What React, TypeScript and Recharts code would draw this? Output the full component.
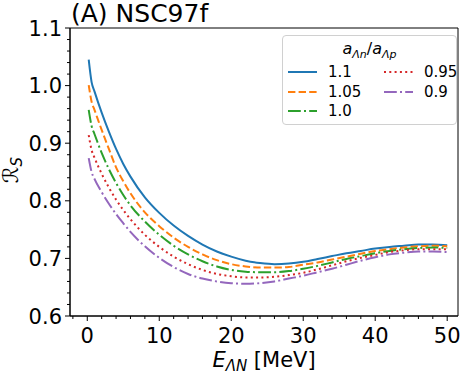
import React from "react";
import { LineChart, Line, XAxis, YAxis, ReferenceArea } from "recharts";

const energy = [0.2, 0.6, 1, 2, 3, 4, 5, 6, 8, 10, 12, 14, 16, 18, 20, 22, 24, 26, 28, 30, 32, 34, 36, 38, 40, 42, 44, 46, 48, 50];

const r110 = [1.045, 1.006, 0.99, 0.953, 0.92, 0.89, 0.864, 0.842, 0.806, 0.779, 0.757, 0.739, 0.724, 0.712, 0.703, 0.696, 0.692, 0.69, 0.691, 0.694, 0.699, 0.704, 0.709, 0.713, 0.717, 0.72, 0.722, 0.724, 0.724, 0.723];
const r105 = [1.001, 0.972, 0.958, 0.923, 0.89, 0.858, 0.834, 0.813, 0.78, 0.756, 0.736, 0.72, 0.707, 0.697, 0.69, 0.686, 0.684, 0.684, 0.685, 0.689, 0.693, 0.698, 0.703, 0.708, 0.713, 0.716, 0.719, 0.721, 0.722, 0.721];
const r100 = [0.958, 0.93, 0.916, 0.883, 0.855, 0.831, 0.81, 0.792, 0.764, 0.741, 0.722, 0.707, 0.695, 0.686, 0.68, 0.677, 0.676, 0.676, 0.678, 0.682, 0.687, 0.693, 0.699, 0.704, 0.709, 0.713, 0.716, 0.718, 0.719, 0.718];
const r095 = [0.914, 0.888, 0.875, 0.847, 0.823, 0.802, 0.784, 0.768, 0.741, 0.72, 0.703, 0.69, 0.68, 0.673, 0.669, 0.667, 0.667, 0.668, 0.671, 0.675, 0.681, 0.688, 0.695, 0.701, 0.706, 0.711, 0.714, 0.716, 0.716, 0.716];
const r090 = [0.874, 0.85, 0.838, 0.815, 0.795, 0.777, 0.761, 0.746, 0.721, 0.701, 0.685, 0.673, 0.665, 0.66, 0.657, 0.656, 0.657, 0.66, 0.665, 0.67, 0.676, 0.682, 0.689, 0.696, 0.702, 0.707, 0.71, 0.712, 0.712, 0.711];

const xMajor = [0, 10, 20, 30, 40, 50];
const yMajor = [0.6, 0.7, 0.8, 0.9, 1.0, 1.1];

const data = energy.map((e, i) => ({ e, r110: r110[i], r105: r105[i], r100: r100[i], r095: r095[i], r090: r090[i] }));

const series = [
  { key: "r110", label: "1.1", color: "#1f77b4", dash: undefined },
  { key: "r105", label: "1.05", color: "#ff7f0e", dash: "7.4 3.2" },
  { key: "r100", label: "1.0", color: "#2ca02c", dash: "12.8 3.2 2 3.2" },
  { key: "r095", label: "0.95", color: "#d62728", dash: "2 3.3" },
  { key: "r090", label: "0.9", color: "#9467bd", dash: "12.8 3.2 2 3.2" },
];

const FONT = "'DejaVu Sans', sans-serif";

const xTicks = Array.from({ length: 27 }, (_, i) => -2 + i * 2);
const yTicks = Array.from({ length: 26 }, (_, i) => Math.round((0.6 + i * 0.02) * 100) / 100);

const XTick = (props: any) => {
  const { x, y, payload } = props;
  const v = payload.value;
  const major = xMajor.includes(v);
  return (
    <g>
      <line x1={x} x2={x} y1={y} y2={y + (major ? 5 : 3)} stroke="#000" strokeWidth={1} />
      {major && (
        <text x={x} y={y + 27} textAnchor="middle" fontSize={21} fontFamily={FONT} fill="#000">
          {v}
        </text>
      )}
    </g>
  );
};

const YTick = (props: any) => {
  const { x, y, payload } = props;
  const v = payload.value;
  const major = yMajor.some((m) => Math.abs(m - v) < 1e-6);
  return (
    <g>
      <line x1={x} x2={x - (major ? 5 : 3)} y1={y} y2={y} stroke="#000" strokeWidth={1} />
      {major && (
        <text x={x - 8} y={y + 7.5} textAnchor="end" fontSize={21} fontFamily={FONT} fill="#000">
          {v.toFixed(1)}
        </text>
      )}
    </g>
  );
};

export default function App() {
  return (
    <div style={{ position: "absolute", left: 0, top: 0, width: 469, height: 374, background: "#fff", fontFamily: FONT }}>
      <LineChart width={469} height={374} data={data} margin={{ top: 28, right: 11, left: 0, bottom: 0 }}>
        <XAxis
          dataKey="e"
          type="number"
          domain={[-2.4, 51.5]}
          ticks={xTicks}
          interval={0}
          height={58}
          tickSize={0}
          tickMargin={0}
          tick={<XTick />}
          tickLine={false}
          axisLine={{ stroke: "#000" }}
          allowDataOverflow
        />
        <YAxis
          type="number"
          domain={[0.6, 1.1]}
          ticks={yTicks}
          interval={0}
          width={70}
          tickSize={0}
          tickMargin={0}
          tick={<YTick />}
          tickLine={false}
          axisLine={{ stroke: "#000" }}
          allowDataOverflow
        />
        <ReferenceArea x1={-2.4} x2={51.5} y1={0.6} y2={1.1} fill="none" stroke="#000" strokeWidth={1} />
        {series.map((s) => (
          <Line
            key={s.key}
            dataKey={s.key}
            type="monotone"
            stroke={s.color}
            strokeWidth={2}
            strokeDasharray={s.dash}
            dot={false}
            isAnimationActive={false}
          />
        ))}
      </LineChart>

      <div style={{ position: "absolute", left: 71, top: 0, fontSize: 25, lineHeight: "28px", color: "#000" }}>(A) NSC97f</div>

      <div style={{ position: "absolute", left: 0, top: 347, width: 528, textAlign: "center", fontSize: 21, lineHeight: "26px", color: "#000" }}>
        <i>E</i>
        <sub style={{ fontSize: 15, fontStyle: "italic", verticalAlign: "-4px" }}>ΛN</sub> [MeV]
      </div>

      <div
        style={{
          position: "absolute",
          left: 14,
          top: 170,
          transform: "translate(-50%, -50%) rotate(-90deg)",
          fontSize: 21,
          lineHeight: "24px",
          whiteSpace: "nowrap",
          color: "#000",
        }}
      >
        <i>ℛ</i>
        <sub style={{ fontSize: 15, fontStyle: "italic", verticalAlign: "-4px" }}>S</sub>
      </div>

      <div
        style={{
          position: "absolute",
          left: 282,
          top: 35,
          width: 175,
          height: 90,
          boxSizing: "border-box",
          border: "1px solid #d0d0d0",
          borderRadius: 4,
          background: "rgba(255,255,255,0.8)",
          fontSize: 15,
          color: "#000",
        }}
      >
        <div style={{ position: "absolute", left: 0, width: "100%", top: 3, textAlign: "center", fontSize: 16, lineHeight: "20px" }}>
          <i>a</i>
          <sub style={{ fontSize: 11, fontStyle: "italic" }}>Λn</sub>/<i>a</i>
          <sub style={{ fontSize: 11, fontStyle: "italic" }}>Λp</sub>
        </div>
        {series.map((s, i) => {
          const col = i < 3 ? 0 : 1;
          const row = i < 3 ? i : i - 3;
          const left = col === 0 ? 5 : 101;
          const top = 27 + row * 19.5;
          return (
            <div key={s.key} style={{ position: "absolute", left, top, height: 18, display: "flex", alignItems: "center" }}>
              <svg width={29} height={10} style={{ display: "block" }}>
                <line x1={0} x2={29} y1={5} y2={5} stroke={s.color} strokeWidth={2} strokeDasharray={s.dash} />
              </svg>
              <span style={{ marginLeft: 11, lineHeight: "18px" }}>{s.label}</span>
            </div>
          );
        })}
      </div>
    </div>
  );
}
